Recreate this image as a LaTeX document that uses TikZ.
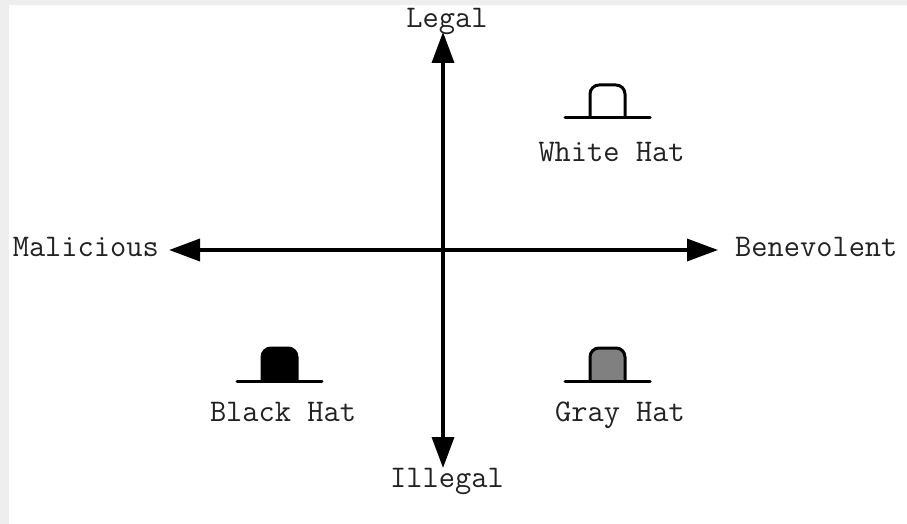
\documentclass[tikz,border=0pt]{standalone}
\usepackage{fontspec}
\usetikzlibrary{arrows.meta, positioning}
\definecolor{bggray}{HTML}{EEEEEE}
\definecolor{hatgray}{HTML}{808080}
\definecolor{txt}{HTML}{222222}
\tikzstyle{label} = [text=txt, font=\ttfamily\fontsize{31.5}{35}\selectfont, inner sep=0, anchor=base]
\tikzstyle{axis} = [line width=3.6pt, {Triangle[width=22pt,length=31pt]}-{Triangle[width=22pt,length=31pt]}]
\tikzstyle{brim} = [line width=3pt, line cap=round]
\tikzstyle{crown} = [line width=3pt, rounded corners=9pt, line join=round]

\begin{document}
\begin{tikzpicture}[x=1pt, y=-1pt]
				\fill[bggray] (0, 0) rectangle (907, 524);
				\fill[white] (9, 5) rectangle (907, 524);

				% axes
				\coordinate (Top) at (443, 32);
				\coordinate (Bottom) at (443, 468);
				\coordinate (Left) at (169, 250);
				\coordinate (Right) at (718, 250);
				\draw [axis] (Top) -- (Bottom);
				\draw [axis] (Left) -- (Right);

				\node (Legal) [label] at (447, 28) {Legal};
				\node (Illegal) [label] at (447, 487) {Illegal};
				\node (Malicious) [label, anchor=base east] at (159, 256) {Malicious};
				\node (Benevolent) [label, anchor=base west] at (735, 256) {Benevolent};

				% white hat
				\coordinate (White) at (607.5, 118);
				\draw [crown, fill=white] ([xshift=-17.5pt]White) -- ++(0, -33) -- ++(35, 0) -- ++(0, 33);
				\draw [brim] ([xshift=-42.5pt]White) -- ([xshift=42.5pt]White);
				\node (WhiteLabel) [label] at (611.5, 161) {White Hat};

				% black hat
				\coordinate (Black) at (279.5, 381);
				\draw [crown, fill=black] ([xshift=-17.5pt]Black) -- ++(0, -33) -- ++(35, 0) -- ++(0, 33);
				\draw [brim] ([xshift=-42.5pt]Black) -- ([xshift=42.5pt]Black);
				\node (BlackLabel) [label] at (283, 421.5) {Black Hat};

				% gray hat
				\coordinate (Gray) at (607.5, 381);
				\draw [crown, fill=hatgray] ([xshift=-17.5pt]Gray) -- ++(0, -33) -- ++(35, 0) -- ++(0, 33);
				\draw [brim] ([xshift=-42.5pt]Gray) -- ([xshift=42.5pt]Gray);
				\node (GrayLabel) [label] at (620, 421.5) {Gray Hat};
			\end{tikzpicture}
\end{document}
